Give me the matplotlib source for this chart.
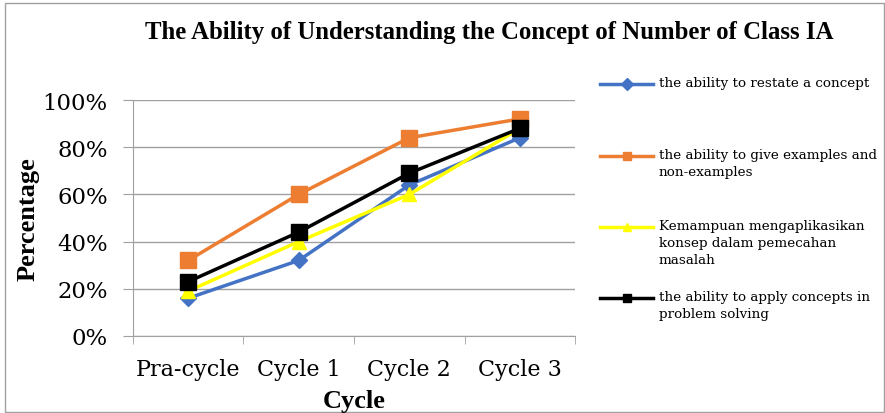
import matplotlib.pyplot as plt
from matplotlib.lines import Line2D
from matplotlib.patches import Rectangle

cycles = ['Pra-cycle', 'Cycle 1', 'Cycle 2', 'Cycle 3']
restate = [16, 32, 64, 84]
examples = [32, 60, 84, 92]
apply_kemampuan = [19, 40, 60, 88]
apply_concepts = [23, 44, 69, 88]

labels = ['the ability to restate a concept',
          'the ability to give examples and\nnon-examples',
          'Kemampuan mengaplikasikan\nkonsep dalam pemecahan\nmasalah',
          'the ability to apply concepts in\nproblem solving']
colors = ['#4472C4', '#ED7D31', '#FFFF00', '#000000']
markers = ['D', 's', '^', 's']
sizes = [8, 11, 10, 11]

plt.rcParams['font.family'] = 'Liberation Serif'

fig = plt.figure(figsize=(8.85, 4.14), dpi=100)
ax = fig.add_axes([0.150, 0.186, 0.500, 0.570])

series = [restate, examples, apply_kemampuan, apply_concepts]
x = list(range(len(cycles)))
for vals, c, m, s in zip(series, colors, markers, sizes):
    ax.plot(x, vals, color=c, marker=m, markersize=s, linewidth=2.5, zorder=3)

ax.set_xlim(-0.5, 3.5)
ax.set_ylim(0, 100)
ax.set_yticks(range(0, 101, 20))
ax.set_yticklabels([f'{v}%' for v in range(0, 101, 20)], fontsize=16.4,
                   family='DejaVu Serif')
ax.set_xticks(x)
ax.set_xticklabels(cycles, fontsize=16, family='DejaVu Serif')
ax.set_xticks([-0.5, 0.5, 1.5, 2.5, 3.5], minor=True)
ax.tick_params(axis='x', which='major', length=0, pad=16)
ax.tick_params(axis='x', which='minor', length=6, color='#a0a0a0')
ax.tick_params(axis='y', length=7, color='#a0a0a0', pad=11)
ax.grid(axis='y', color='#a0a0a0', linewidth=1)
ax.set_axisbelow(True)
for side in ['top', 'right']:
    ax.spines[side].set_visible(False)
for side in ['left', 'bottom']:
    ax.spines[side].set_color('#a0a0a0')

W, H = 885, 414
fig.text(28 / W, 1 - 219 / H, 'Percentage', rotation=90, ha='center', va='center',
         fontsize=19, fontweight='bold')
fig.text(354 / W, 1 - 402 / H, 'Cycle', ha='center', va='center',
         fontsize=19, fontweight='bold')

fig.text(0.553, 1 - 33 / H, 'The Ability of Understanding the Concept of Number of Class IA',
         ha='center', va='center', fontsize=17.8, fontweight='bold')

# legend drawn by hand so the handle lines up with the first text line
legend_y = [85, 157, 228, 299]
for lab, c, m, yy in zip(labels, colors, markers, legend_y):
    fy = 1 - yy / H
    fig.add_artist(Line2D([600 / W, 653 / W], [fy, fy], color=c, linewidth=2.5))
    fig.add_artist(Line2D([626.5 / W], [fy], color=c, marker=m, markersize=6))
    fig.text(659 / W, fy + 8 / H, lab, ha='left', va='top', fontsize=9.7,
             family='DejaVu Serif', linespacing=1.4)

fig.add_artist(Rectangle((5 / W, 0.002), 1 - 6 / W, 1 - 5 / H, transform=fig.transFigure,
                         fill=False, edgecolor='#a0a0a0', linewidth=1))

fig.savefig('out.png', dpi=100)
